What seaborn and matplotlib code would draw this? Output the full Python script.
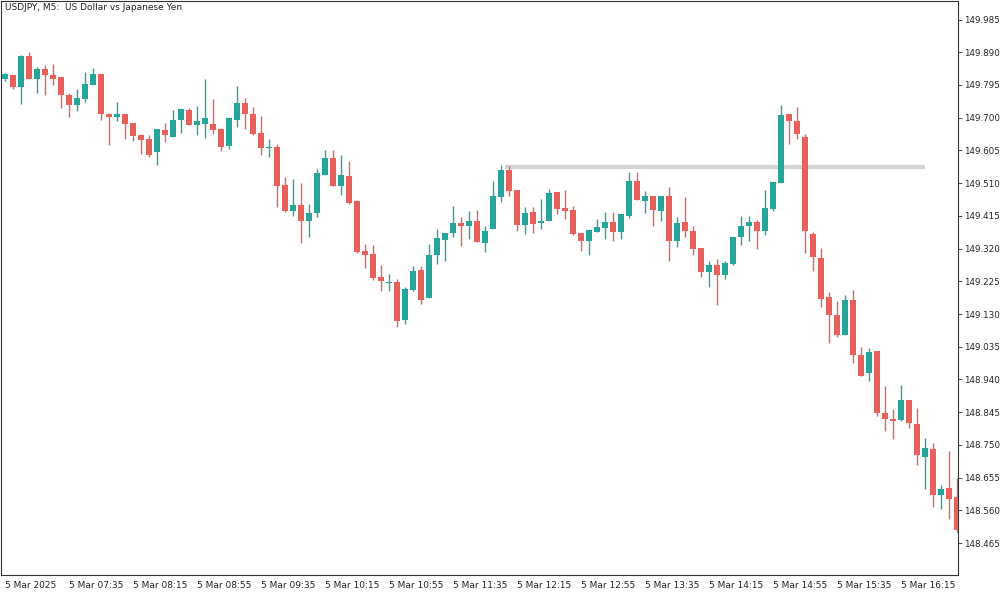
import numpy as np
import pandas as pd
import matplotlib
matplotlib.use("Agg")
import matplotlib.pyplot as plt
import seaborn as sns

# USDJPY M5 candles, 5 Mar 2025 06:55 .. 16:50
opens = [149.811, 149.825, 149.788, 149.878, 149.811, 149.840, 149.823, 149.817, 149.765, 149.738,
         149.753, 149.796, 149.828, 149.712, 149.701, 149.710, 149.686, 149.649, 149.637, 149.599,
         149.663, 149.643, 149.692, 149.721, 149.678, 149.683, 149.683, 149.666, 149.617, 149.692,
         149.744, 149.712, 149.657, 149.611, 149.614, 149.504, 149.428, 149.446, 149.399, 149.422,
         149.535, 149.582, 149.501, 149.530, 149.457, 149.312, 149.303, 149.237, 149.221, 149.222,
         149.112, 149.199, 149.257, 149.176, 149.301, 149.344, 149.364, 149.393, 149.387, 149.399,
         149.335, 149.376, 149.469, 149.547, 149.489, 149.388, 149.425, 149.393, 149.399, 149.483,
         149.437, 149.431, 149.364, 149.341, 149.367, 149.379, 149.396, 149.367, 149.416, 149.515,
         149.457, 149.474, 149.428, 149.472, 149.341, 149.396, 149.370, 149.321, 149.251, 149.272,
         149.243, 149.274, 149.353, 149.385, 149.396, 149.370, 149.434, 149.509, 149.712, 149.689,
         149.643, 149.361, 149.292, 149.179, 149.127, 149.069, 149.170, 149.010, 148.958, 149.022,
         148.842, 148.825, 148.822, 148.880, 148.810, 148.715, 148.738, 148.605, 148.625, 148.599]
highs = [149.831, 149.825, 149.883, 149.892, 149.846, 149.854, 149.857, 149.817, 149.773, 149.782,
         149.834, 149.843, 149.828, 149.715, 149.747, 149.712, 149.686, 149.654, 149.651, 149.666,
         149.686, 149.721, 149.724, 149.727, 149.733, 149.811, 149.753, 149.669, 149.698, 149.791,
         149.756, 149.730, 149.704, 149.637, 149.625, 149.527, 149.521, 149.509, 149.448, 149.550,
         149.605, 149.605, 149.591, 149.573, 149.460, 149.332, 149.330, 149.272, 149.245, 149.231,
         149.208, 149.269, 149.269, 149.332, 149.376, 149.364, 149.445, 149.411, 149.428, 149.431,
         149.385, 149.515, 149.564, 149.561, 149.489, 149.440, 149.440, 149.463, 149.492, 149.483,
         149.489, 149.445, 149.364, 149.373, 149.405, 149.425, 149.425, 149.419, 149.541, 149.541,
         149.486, 149.474, 149.472, 149.498, 149.411, 149.469, 149.387, 149.321, 149.283, 149.289,
         149.283, 149.353, 149.416, 149.416, 149.402, 149.489, 149.512, 149.736, 149.712, 149.730,
         149.654, 149.367, 149.321, 149.193, 149.167, 149.185, 149.199, 149.034, 149.031, 149.022,
         148.921, 148.854, 148.924, 148.880, 148.857, 148.770, 148.755, 148.634, 148.732, 148.654]
lows = [149.808, 149.782, 149.741, 149.811, 149.773, 149.767, 149.794, 149.727, 149.701, 149.718,
        149.747, 149.794, 149.692, 149.620, 149.689, 149.637, 149.631, 149.596, 149.585, 149.564,
        149.628, 149.643, 149.657, 149.678, 149.651, 149.640, 149.654, 149.602, 149.608, 149.672,
        149.666, 149.651, 149.591, 149.585, 149.440, 149.425, 149.416, 149.335, 149.353, 149.411,
        149.535, 149.501, 149.477, 149.448, 149.306, 149.263, 149.228, 149.196, 149.196, 149.092,
        149.100, 149.196, 149.158, 149.176, 149.274, 149.283, 149.353, 149.327, 149.347, 149.338,
        149.309, 149.376, 149.454, 149.474, 149.370, 149.361, 149.364, 149.376, 149.399, 149.419,
        149.405, 149.358, 149.312, 149.301, 149.367, 149.347, 149.341, 149.347, 149.408, 149.460,
        149.422, 149.387, 149.399, 149.283, 149.324, 149.353, 149.301, 149.237, 149.208, 149.156,
        149.231, 149.272, 149.330, 149.341, 149.318, 149.358, 149.428, 149.509, 149.625, 149.637,
        149.306, 149.254, 149.150, 149.045, 149.063, 149.069, 148.987, 148.950, 148.935, 148.834,
        148.790, 148.767, 148.819, 148.799, 148.692, 148.622, 148.570, 148.564, 148.535, 148.497]
closes = [149.828, 149.788, 149.878, 149.811, 149.840, 149.823, 149.811, 149.767, 149.736, 149.756,
          149.799, 149.828, 149.712, 149.701, 149.710, 149.683, 149.646, 149.634, 149.591, 149.666,
          149.649, 149.692, 149.724, 149.678, 149.689, 149.698, 149.663, 149.614, 149.698, 149.744,
          149.712, 149.654, 149.611, 149.614, 149.501, 149.428, 149.446, 149.399, 149.422, 149.538,
          149.582, 149.501, 149.533, 149.451, 149.309, 149.301, 149.234, 149.225, 149.223, 149.109,
          149.202, 149.254, 149.170, 149.301, 149.350, 149.364, 149.393, 149.385, 149.399, 149.338,
          149.370, 149.472, 149.547, 149.486, 149.388, 149.422, 149.390, 149.399, 149.480, 149.434,
          149.428, 149.361, 149.341, 149.373, 149.382, 149.396, 149.367, 149.419, 149.515, 149.460,
          149.474, 149.431, 149.472, 149.341, 149.393, 149.370, 149.318, 149.251, 149.272, 149.243,
          149.277, 149.353, 149.387, 149.396, 149.370, 149.437, 149.512, 149.709, 149.689, 149.654,
          149.370, 149.295, 149.173, 149.127, 149.069, 149.170, 149.010, 148.950, 149.019, 148.842,
          148.825, 148.819, 148.880, 148.813, 148.720, 148.741, 148.605, 148.622, 148.593, 148.503]

level_price = 149.556
level_span = (62.5, 115.0)
y_ticks = [148.465 + 0.095 * k for k in range(17)]

UP = "#26a69a"
DOWN = "#e8605a"

df = pd.DataFrame({"open": opens, "high": highs, "low": lows, "close": closes})
df["time"] = pd.date_range("2025-03-05 06:55", periods=len(df), freq="5min")
df["x"] = np.arange(len(df))
df["up"] = df["close"] >= df["open"]
df["color"] = np.where(df["up"], UP, DOWN)

sns.set_style("white")
plt.rcParams["font.family"] = ["DejaVu Sans"]

fig = plt.figure(figsize=(10.02, 5.97), dpi=100)
ax = fig.add_axes([0.001, 0.037, 0.955, 0.962])

ax.hlines(level_price, *level_span, color="#d3d3d3", lw=3, zorder=1)
ax.vlines(df["x"], df["low"], df["high"], color=df["color"], lw=1, zorder=2)
body_lo = np.minimum(df["open"], df["close"])
body_h = np.maximum((df["close"] - df["open"]).abs(), 0.002)
ax.bar(df["x"], body_h, bottom=body_lo, width=0.72, color=df["color"], linewidth=0, zorder=3)

ax.set_xlim(-0.5, 119.125)
ax.set_ylim(148.3725, 150.040)
ax.yaxis.tick_right()
ax.set_yticks(y_ticks)
ax.set_yticklabels([f"{v:.3f}" for v in y_ticks], fontsize=6.3)
xt = df["x"][::8]
labels = ["5 Mar 2025" if i == 0 else t.strftime("5 Mar %H:%M") for i, t in zip(xt, df["time"][::8])]
ax.set_xticks(xt)
ax.set_xticklabels(labels, fontsize=6.5, ha="left")
ax.tick_params(axis="both", length=3, width=0.6, color="#333333", pad=1.5)
for s in ax.spines.values():
    s.set_color("#333333")
    s.set_linewidth(0.8)

ax.text(0.004, 0.995, "USDJPY, M5:  US Dollar vs Japanese Yen", transform=ax.transAxes,
        fontsize=6.5, va="top", ha="left")

fig.savefig("out.png", dpi=100)
